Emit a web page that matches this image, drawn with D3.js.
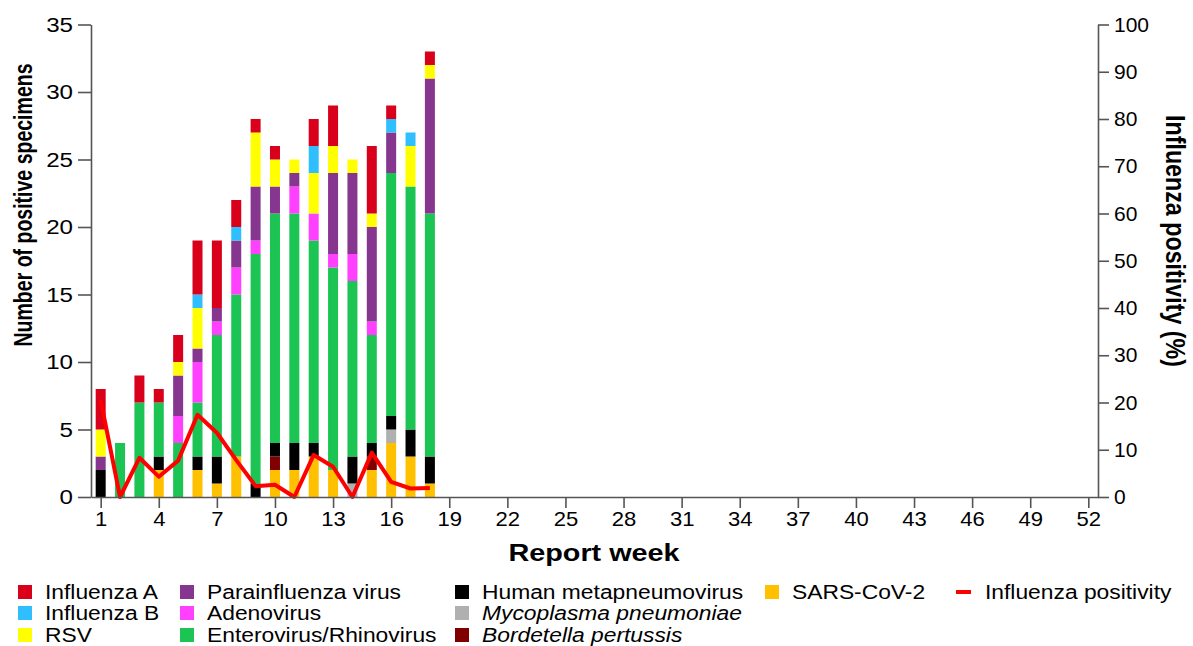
<!DOCTYPE html>
<html>
<head>
<meta charset="utf-8">
<script src="https://cdn.jsdelivr.net/npm/d3@7"></script>
<style>
  html, body { margin: 0; padding: 0; background: #fff; }
  svg { display: block; font-family: "Liberation Sans", Arial, sans-serif; }
</style>
</head>
<body>
<svg id="chart" width="1193" height="646"></svg>
<script>
// Weekly counts of positive specimens by pathogen (report weeks 1–18)
const weeks = d3.range(1, 19);
const fluA   = [3,0,2,1,2,4,5,2,1,1,0,2,3,0,5,1,0,1];
const fluB   = [0,0,0,0,0,1,0,1,0,0,0,2,0,0,0,1,1,0];
const rsv    = [2,0,0,0,1,3,0,0,4,2,1,3,2,1,1,0,3,1];
const para   = [1,0,0,0,3,1,1,2,4,2,1,0,6,6,7,3,0,10];
const adeno  = [0,0,0,0,2,3,1,2,1,0,2,2,1,2,1,0,0,0];
const entero = [0,4,7,4,4,4,9,12,17,17,17,15,15,13,8,18,18,18];
const hmpv   = [2,0,0,1,0,1,2,0,1,1,2,1,0,2,1,1,2,2];
const myco   = [0,0,0,0,0,0,0,0,0,0,0,0,0,1,0,1,0,0];
const bord   = [0,0,0,0,0,0,0,0,0,1,0,0,0,0,1,0,0,0];
const sars   = [0,0,0,2,0,2,1,3,0,2,2,3,2,0,2,4,3,1];

// Influenza positivity (%) per week
const fluPositivity = [20.5,0,8.3,4.3,7.7,17.4,13.6,7.8,2.3,2.6,0,8.9,6.4,0,9.4,3.2,1.8,1.9];

// Axis ticks
const xTicks = d3.range(1, 53, 3);
const yLeftTicks = d3.range(0, 36, 5);
const yRightTicks = d3.range(0, 101, 10);

// Series, bottom of the stack first
const series = [
  { key: "sars",   name: "SARS-CoV-2",             color: "#ffc000", values: sars },
  { key: "bord",   name: "Bordetella pertussis",   color: "#800000", values: bord,  italic: true },
  { key: "myco",   name: "Mycoplasma pneumoniae",  color: "#b0b0b0", values: myco,  italic: true },
  { key: "hmpv",   name: "Human metapneumovirus",  color: "#000000", values: hmpv },
  { key: "entero", name: "Enterovirus/Rhinovirus", color: "#1cc453", values: entero },
  { key: "adeno",  name: "Adenovirus",             color: "#ff40ff", values: adeno },
  { key: "para",   name: "Parainfluenza virus",    color: "#86368f", values: para },
  { key: "rsv",    name: "RSV",                    color: "#ffff00", values: rsv },
  { key: "fluB",   name: "Influenza B",            color: "#2fbfff", values: fluB },
  { key: "fluA",   name: "Influenza A",            color: "#d9001b", values: fluA }
];

const table = weeks.map((w, i) => {
  const row = { week: w };
  series.forEach(s => { row[s.key] = s.values[i]; });
  return row;
});

const svg = d3.select("#chart");
const plot = { left: 91, right: 1098, top: 24.5, bottom: 497 };
const stretch = 1.17;   // text is set slightly wide

const x = d3.scaleLinear().domain([0.5, 52.5]).range([plot.left, plot.right]);
const yL = d3.scaleLinear().domain([0, 35]).range([plot.bottom, plot.top]);
const yR = d3.scaleLinear().domain([0, 100]).range([plot.bottom, plot.top]);
const barW = 10;

const stacked = d3.stack().keys(series.map(s => s.key))(table);
const colorOf = Object.fromEntries(series.map(s => [s.key, s.color]));

// Stacked bars
svg.append("g")
  .selectAll("g")
  .data(stacked)
  .join("g")
  .attr("fill", d => colorOf[d.key])
  .selectAll("rect")
  .data(d => d.filter(p => p[1] > p[0]))
  .join("rect")
  .attr("x", d => x(d.data.week) - barW / 2)
  .attr("width", barW)
  .attr("y", d => yL(d[1]))
  .attr("height", d => yL(d[0]) - yL(d[1]));

// Influenza positivity line
svg.append("path")
  .datum(weeks.map((w, i) => [w, fluPositivity[i]]))
  .attr("fill", "none")
  .attr("stroke", "#ff0000")
  .attr("stroke-width", 4)
  .attr("stroke-linejoin", "round")
  .attr("d", d3.line().x(d => x(d[0])).y(d => yR(d[1])));

const axisColor = "#555";
const tickFont = 21;

function styleAxis(g) {
  g.select(".domain").attr("stroke", axisColor).attr("stroke-width", 1.6);
  g.selectAll(".tick line").attr("stroke", axisColor).attr("stroke-width", 1.6);
  g.selectAll(".tick text").attr("font-size", tickFont).attr("fill", "#000")
    .attr("font-family", "Liberation Sans, Arial, sans-serif");
}

// Bottom axis
const gx = svg.append("g")
  .attr("transform", `translate(0,${plot.bottom})`)
  .call(d3.axisBottom(x).tickValues(xTicks).tickSize(11).tickPadding(3).tickSizeOuter(0));
styleAxis(gx);
gx.selectAll(".tick text").attr("transform", `scale(1.05,1)`);

// Left axis
const gl = svg.append("g")
  .attr("transform", `translate(${plot.left},0)`)
  .call(d3.axisLeft(yL).tickValues(yLeftTicks).tickSize(13).tickPadding(5).tickSizeOuter(0));
styleAxis(gl);
gl.selectAll(".tick text").each(function () {
  const t = d3.select(this);
  const xx = +t.attr("x");
  t.attr("x", 0).attr("transform", `translate(${xx},0) scale(1.15,1)`);
});

// Right axis
const gr = svg.append("g")
  .attr("transform", `translate(${plot.right},0)`)
  .call(d3.axisRight(yR).tickValues(yRightTicks).tickSize(11).tickPadding(5).tickSizeOuter(0));
styleAxis(gr);

// Axis titles
svg.append("text")
  .attr("transform", `translate(32,205) rotate(-90) scale(1,1.15)`)
  .attr("text-anchor", "middle")
  .attr("font-size", 22).attr("font-weight", "bold")
  .attr("textLength", 283).attr("lengthAdjust", "spacingAndGlyphs")
  .text("Number of positive specimens");

svg.append("text")
  .attr("transform", `translate(1166,241) rotate(90) scale(1,${stretch})`)
  .attr("text-anchor", "middle")
  .attr("font-size", 23).attr("font-weight", "bold")
  .attr("textLength", 252).attr("lengthAdjust", "spacingAndGlyphs")
  .text("Influenza positivity (%)");

svg.append("text")
  .attr("transform", `translate(594,561) scale(1.2,1)`)
  .attr("text-anchor", "middle")
  .attr("font-size", 24).attr("font-weight", "bold")
  .text("Report week");

// Legend
const legendCols = [
  { x: 18,  keys: ["fluA", "fluB", "rsv"] },
  { x: 180, keys: ["para", "adeno", "entero"] },
  { x: 455, keys: ["hmpv", "myco", "bord"] },
  { x: 765, keys: ["sars"] }
];
const byKey = Object.fromEntries(series.map(s => [s.key, s]));
const rowY = [592, 613, 635];
const legend = svg.append("g").attr("font-size", 19.5);
legendCols.forEach(col => {
  col.keys.forEach((k, r) => {
    const s = byKey[k];
    legend.append("rect")
      .attr("x", col.x).attr("y", rowY[r] - 7)
      .attr("width", 14).attr("height", 14)
      .attr("fill", s.color);
    legend.append("text")
      .attr("transform", `translate(${col.x + 27},${rowY[r]}) scale(${stretch},1)`)
      .attr("dy", "0.35em")
      .attr("font-style", s.italic ? "italic" : "normal")
      .text(s.name);
  });
});
legend.append("line")
  .attr("x1", 956).attr("x2", 971)
  .attr("y1", rowY[0]).attr("y2", rowY[0])
  .attr("stroke", "#ff0000").attr("stroke-width", 4);
legend.append("text")
  .attr("transform", `translate(985,${rowY[0]}) scale(${stretch},1)`)
  .attr("dy", "0.35em")
  .text("Influenza positivity");
</script>
</body>
</html>
